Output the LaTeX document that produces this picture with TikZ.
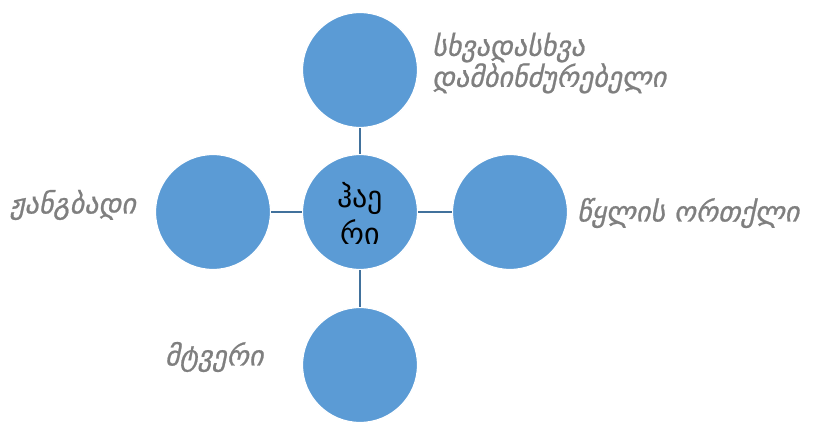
\documentclass[tikz,border=0pt]{standalone}
\usepackage{fontspec}
\newfontfamily\geo{DejaVu Sans}
\newfontfamily\geoit{DejaVu Sans Oblique}[FakeBold=0.8]
\definecolor{cfill}{HTML}{5B9BD5}
\definecolor{cline}{HTML}{41719C}
\definecolor{lgray}{HTML}{7F7F7F}
\begin{document}
\begin{tikzpicture}[x=1pt,y=-1pt,
  bub/.style={circle,draw=white,line width=1.2pt,fill=cfill,minimum size=115pt,inner sep=0pt},
  conn/.style={draw=cline,line width=1.2pt},
  lab/.style={font=\geoit\fontsize{28}{31}\selectfont,text=lgray,align=left,inner sep=0pt}]
\useasboundingbox (0,0) rectangle (814,423);
\fill[white] (0,0) rectangle (814,423);
\node[bub] (c) at (360,212) {};
\node[bub] (t) at (360,70) {};
\node[bub] (b) at (360,365) {};
\node[bub] (l) at (213,212) {};
\node[bub] (r) at (510,212) {};
\draw[conn] (c) -- (t);
\draw[conn] (c) -- (b);
\draw[conn] (c) -- (l);
\draw[conn] (c) -- (r);
\node[font=\geo\fontsize{30}{37}\selectfont,align=center,inner sep=0pt] (ct) at (360,213) {ჰაე\\რი};
\node[lab,anchor=west] (tl) at (432,63) {სხვადასხვა\\დამბინძურებელი};
\node[lab,anchor=west] (ll) at (10,205) {ჟანგბადი};
\node[lab,anchor=west] (rl) at (577,213) {წყლის ორთქლი};
\node[lab,anchor=west] (bl) at (165,357) {მტვერი};
\end{tikzpicture}
\end{document}
